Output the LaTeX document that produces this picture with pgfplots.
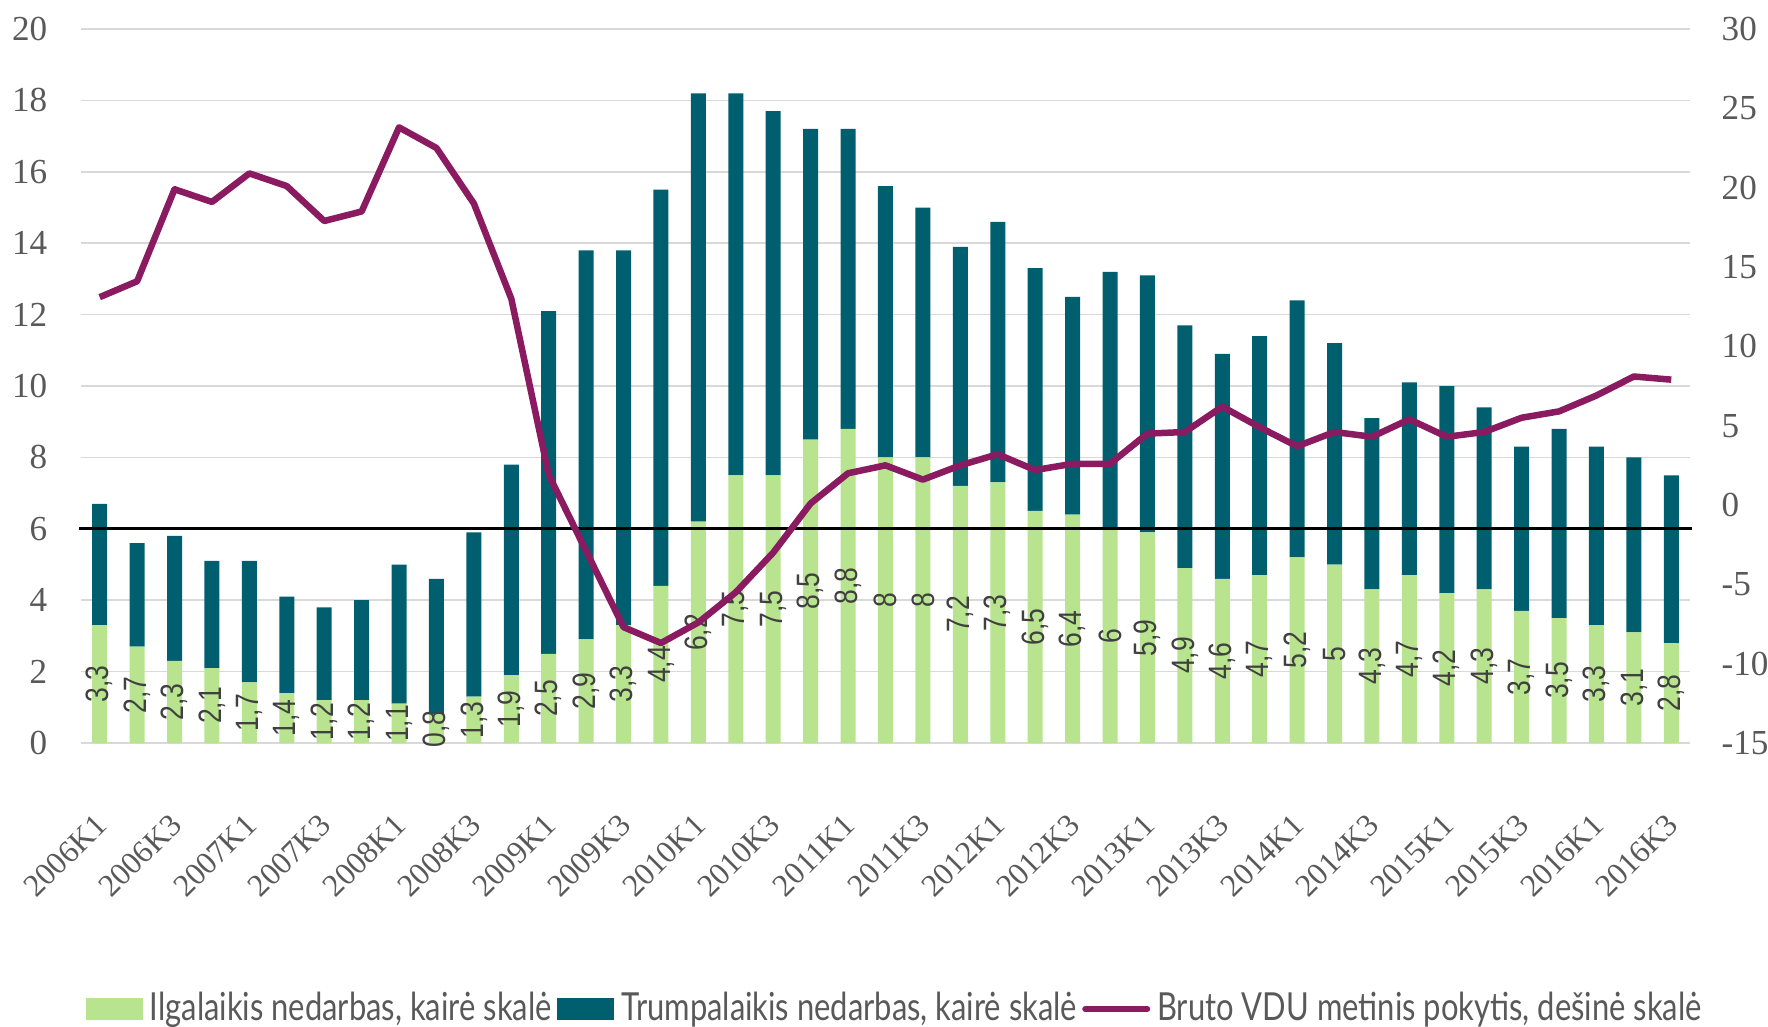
\documentclass[border=0pt]{standalone}
\usepackage{fontspec}
\setmainfont{Liberation Serif}
\newfontfamily\legfont[FakeStretch=0.8]{Lato}
\newfontfamily\lblfont[FakeStretch=0.82]{Liberation Sans}
\usepackage{pgfplots}
\usepackage{pgfplotstable}
\pgfplotsset{compat=1.18}

\definecolor{longc}{HTML}{B9E48F}
\definecolor{shortc}{HTML}{005F6E}
\definecolor{wagec}{HTML}{8A1B61}
\definecolor{gridc}{HTML}{D9D9D9}
\definecolor{tickc}{HTML}{595959}
\definecolor{lblc}{HTML}{404040}

% x: quarter index (0 = 2006K1), long/short: unemployment, wage: yoy change (right axis)
\pgfplotstableread{
x  long short wage
0  3.3  3.4  13.1
1  2.7  2.9  14.1
2  2.3  3.5  19.9
3  2.1  3.0  19.1
4  1.7  3.4  20.9
5  1.4  2.7  20.1
6  1.2  2.6  17.9
7  1.2  2.8  18.5
8  1.1  3.9  23.8
9  0.8  3.8  22.5
10 1.3  4.6  19.0
11 1.9  5.9  13.0
12 2.5  9.6  1.9
13 2.9  10.9 -2.9
14 3.3  10.5 -7.7
15 4.4  11.1 -8.7
16 6.2  12.0 -7.4
17 7.5  10.7 -5.5
18 7.5  10.2 -3.0
19 8.5  8.7  0.1
20 8.8  8.4  2.0
21 8.0  7.6  2.5
22 8.0  7.0  1.6
23 7.2  6.7  2.5
24 7.3  7.3  3.2
25 6.5  6.8  2.2
26 6.4  6.1  2.6
27 6.0  7.2  2.6
28 5.9  7.2  4.5
29 4.9  6.8  4.6
30 4.6  6.3  6.2
31 4.7  6.7  4.9
32 5.2  7.2  3.7
33 5.0  6.2  4.6
34 4.3  4.8  4.3
35 4.7  5.4  5.4
36 4.2  5.8  4.3
37 4.3  5.1  4.6
38 3.7  4.6  5.5
39 3.5  5.3  5.9
40 3.3  5.0  6.9
41 3.1  4.9  8.1
42 2.8  4.7  7.9
}\data

\pgfplotsset{
  base/.style={
    scale only axis, width=160.9mm, height=71.4mm,
    at={(0,0)}, anchor=south west,
    xmin=-0.5, xmax=42.5,
    /pgf/number format/assume math mode=true,
    tick label style={font=\fontsize{10}{12}\selectfont, text=tickc},
    major tick style={draw=none},
    axis line style={draw=none},
  },
}

\begin{document}
\begin{tikzpicture}
\useasboundingbox (-8.1mm,-28.4mm) rectangle (168.7mm,74.3mm);

% left axis: stacked bars
\begin{axis}[base,
  ybar stacked, bar width=1.5mm,
  ymin=0, ymax=20, ytick distance=2,
  ymajorgrids, grid style={gridc, line width=0.15mm},
  yticklabel style={anchor=east, inner sep=0pt, xshift=-3.3mm},
  xtick={0,2,...,42},
  xticklabels={2006K1,2006K3,2007K1,2007K3,2008K1,2008K3,2009K1,2009K3,2010K1,2010K3,2011K1,2011K3,2012K1,2012K3,2013K1,2013K3,2014K1,2014K3,2015K1,2015K3,2016K1,2016K3},
  xticklabel style={xshift=0.2mm, yshift=-7.6mm, rotate=45, anchor=east, inner sep=0pt,
    font=\fontsize{9}{11}\selectfont},
]
\addplot[fill=longc, draw=none] table[x=x, y=long] {\data};
\addplot[fill=shortc, draw=none] table[x=x, y=short] {\data};
\end{axis}

% left scale overlay: zero line of the wage scale and data labels
\begin{axis}[base, ymin=0, ymax=20, hide axis, clip=false,
  /pgf/number format/.cd, use comma, fixed, precision=1]
\addplot[black, line width=0.3mm] coordinates {(-0.55,6) (42.55,6)};
\addplot[only marks, mark=none, point meta=explicit,
  nodes near coords, nodes near coords align=center,
  nodes near coords style={rotate=90, inner sep=0pt, text=lblc,
    font=\lblfont\fontsize{9.2}{11}\selectfont}]
  table[x=x, y expr=\thisrow{long}/2, meta=long] {\data};
\end{axis}

% right axis: wage change
\begin{axis}[base,
  axis x line=none, axis y line*=right,
  ymin=-15, ymax=30, ytick distance=5,
  yticklabel style={anchor=west, inner sep=0pt, xshift=3.1mm},
  legend style={at={(0.506,-0.3725)}, anchor=center, draw=none, fill=none,
    legend columns=3, font=\legfont\fontsize{11}{13}\selectfont, text=tickc,
    nodes={inner sep=0.3mm},
    /tikz/every even column/.append style={column sep=0.2mm},
    /tikz/every odd column/.append style={column sep=0.4mm}},
]
\addlegendimage{legend image code/.code={\fill[longc] (0mm,-1.05mm) rectangle (5.6mm,1.05mm);}}
\addlegendentry{Ilgalaikis nedarbas, kairė skalė}
\addlegendimage{legend image code/.code={\fill[shortc] (0mm,-1.05mm) rectangle (5.6mm,1.05mm);}}
\addlegendentry{Trumpalaikis nedarbas, kairė skalė}
\addlegendimage{legend image code/.code={\draw[wagec, line width=0.6mm, line cap=round] (0mm,0mm) -- (6.2mm,0mm);}}
\addlegendentry{Bruto VDU metinis pokytis, dešinė skalė}
\addplot[wagec, line width=0.65mm, line join=round, mark=none] table[x=x, y=wage] {\data};
\end{axis}
\end{tikzpicture}
\end{document}
